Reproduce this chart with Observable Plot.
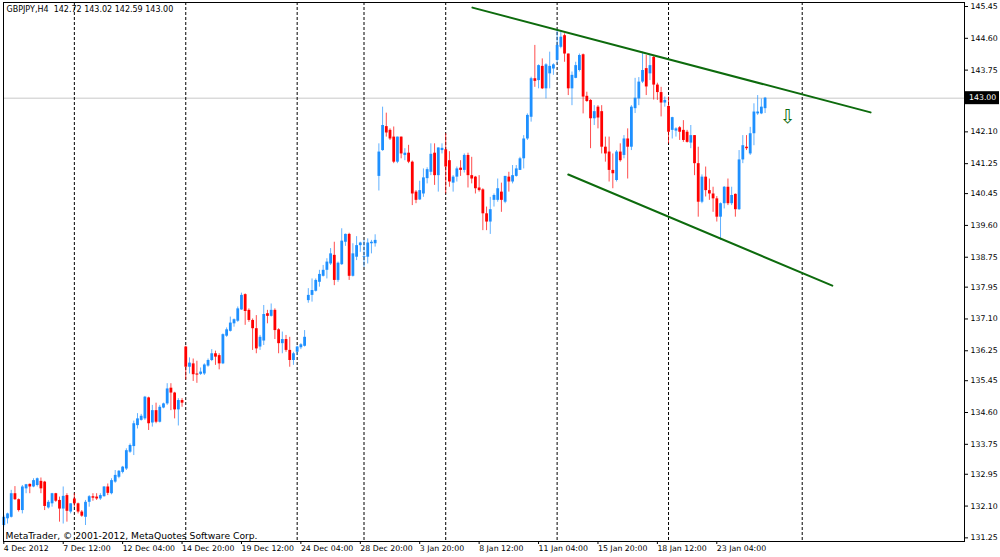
<!DOCTYPE html>
<html>
<head>
<meta charset="utf-8">
<script src="https://cdn.jsdelivr.net/npm/d3@7"></script>
<script src="https://cdn.jsdelivr.net/npm/@observablehq/plot@0.6"></script>
<style>
  html, body { margin: 0; padding: 0; background: #fff; }
  #chart svg { display: block; }
</style>
</head>
<body>
<div id="chart"></div>
<script>
// ---- Data (GBPJPY H4 candles) ----
const open = [131.58,131.76,131.80,132.43,132.27,131.98,132.56,132.68,132.61,132.65,132.76,132.74,132.05,132.16,132.43,132.25,132.02,132.38,131.94,132.29,132.16,131.94,131.80,132.20,132.35,132.34,132.29,132.35,132.61,132.43,132.74,132.87,133.00,133.09,133.54,133.69,134.25,134.39,134.43,134.99,134.32,134.65,134.34,134.72,134.83,135.25,135.12,134.67,134.92,136.35,135.81,135.90,135.63,135.62,135.63,135.84,135.99,136.17,136.12,135.90,136.64,136.77,136.97,137.04,137.34,137.75,137.33,137.06,136.84,136.35,136.51,137.24,137.17,137.33,136.81,136.44,136.55,136.26,135.99,136.21,136.33,136.37,137.59,137.73,137.84,138.08,138.24,138.40,138.57,138.80,138.13,138.55,139.15,139.36,138.24,138.75,139.06,138.75,138.75,139.11,139.11,140.91,141.60,142.24,142.14,141.96,141.29,141.96,141.47,141.53,141.29,140.49,140.28,140.44,140.85,141.02,141.53,140.93,141.60,141.62,141.33,140.73,140.89,141.13,141.07,141.47,140.93,140.89,140.60,140.55,139.91,139.69,140.27,140.27,140.49,140.22,140.89,140.76,140.91,141.07,141.38,141.91,142.49,143.52,143.47,143.85,143.25,143.65,143.78,144.01,144.36,144.67,144.18,143.25,143.53,143.74,144.16,143.05,142.94,142.45,142.76,142.64,141.69,141.56,141.07,140.80,141.56,141.47,141.91,141.69,142.72,142.98,143.43,143.79,143.65,144.09,143.35,143.15,142.87,142.78,142.14,142.12,142.21,142.14,142.09,141.80,142.00,141.25,140.22,140.89,140.53,140.44,140.31,139.82,140.18,140.62,140.18,140.43,140.02,141.35,141.69,141.51,142.05,142.58,142.58,142.72];
const high = [131.85,131.91,132.52,132.62,132.29,132.65,132.68,132.69,132.83,132.85,132.85,132.76,132.25,132.44,132.44,132.34,132.61,132.43,132.16,132.43,132.18,131.98,132.25,132.38,132.43,132.43,132.43,132.62,132.69,132.83,133.05,133.05,133.16,133.63,133.76,134.37,134.57,134.55,135.03,135.01,134.79,134.85,134.79,134.85,135.37,135.37,135.14,134.97,134.97,136.37,136.06,136.03,135.97,135.79,135.90,136.03,136.28,136.24,136.17,136.70,136.86,137.15,137.10,137.42,137.79,137.77,137.37,137.10,137.19,136.66,137.46,137.33,137.50,137.37,136.84,136.75,136.66,136.61,136.21,136.37,136.44,136.79,137.91,138.17,138.17,138.40,138.53,138.71,138.98,139.15,138.62,139.51,139.37,139.39,139.11,139.30,139.15,139.20,139.24,139.20,139.35,141.78,142.76,142.60,142.18,142.23,141.96,141.96,141.65,141.74,141.32,140.53,140.78,141.11,141.14,141.78,141.78,141.67,141.78,142.05,141.57,140.93,141.16,141.33,141.51,141.53,141.42,140.91,140.93,140.58,140.09,140.35,140.44,140.84,140.73,140.91,141.02,141.20,141.20,141.42,142.00,142.58,143.56,144.41,143.89,144.05,143.92,144.23,143.92,144.81,144.76,144.72,144.18,143.70,143.96,144.18,144.18,143.16,142.96,142.80,142.80,142.80,141.96,141.96,141.51,141.60,141.78,142.00,142.18,142.80,143.53,143.55,144.23,144.14,144.14,144.12,143.40,143.29,143.03,143.03,142.49,142.21,142.24,142.40,142.14,142.27,142.00,141.69,140.95,141.16,140.84,140.62,140.37,140.20,140.64,140.84,140.62,140.44,141.60,142.00,142.00,142.22,142.85,143.07,142.98,143.02];
const low = [131.54,131.62,131.78,132.25,131.94,131.89,132.43,132.43,132.59,132.61,132.43,131.98,132.02,132.07,132.20,131.67,131.62,131.67,131.89,132.07,131.89,131.80,131.58,132.07,132.23,132.25,132.25,132.34,132.38,132.40,132.71,132.83,132.96,133.05,133.51,133.45,134.16,134.37,134.39,134.12,134.21,134.30,134.32,134.70,134.79,134.65,134.43,134.24,134.74,135.47,135.63,135.43,135.38,135.59,135.59,135.81,135.96,135.86,135.74,135.88,136.61,136.75,136.88,137.01,137.33,136.93,137.01,136.26,136.17,136.26,136.39,136.97,137.15,136.55,136.17,136.17,136.21,135.81,135.86,136.12,136.28,136.35,137.52,137.55,137.82,137.95,138.22,138.17,138.53,137.99,138.08,138.53,139.04,138.13,138.22,138.66,138.88,138.48,138.57,138.84,139.02,140.52,141.58,141.96,141.87,141.25,141.25,141.38,141.33,141.25,140.13,140.18,140.27,140.35,140.71,140.93,140.67,140.49,141.51,140.44,140.62,140.49,140.76,140.91,141.00,140.60,140.71,140.44,140.49,139.46,139.46,139.36,140.09,140.22,139.95,140.18,140.49,140.71,140.89,141.07,141.11,141.87,142.36,143.29,143.25,143.23,142.98,143.25,143.61,143.92,144.32,143.96,143.07,142.80,143.52,143.70,142.58,142.89,141.65,142.27,142.18,141.51,141.29,140.76,140.58,140.76,141.29,141.38,140.84,141.60,142.59,142.80,143.39,143.07,143.47,142.95,142.94,142.50,142.76,141.78,141.91,141.96,141.87,141.82,141.80,141.65,140.93,139.82,140.18,140.36,140.27,139.95,139.69,139.20,140.04,140.13,140.13,139.82,140.00,141.25,141.60,141.47,141.73,142.54,142.56,142.59];
const close = [131.80,131.89,132.43,132.27,131.98,132.61,132.67,132.61,132.78,132.83,132.56,132.09,132.20,132.43,132.23,132.02,132.36,131.96,132.16,132.16,131.94,131.83,132.20,132.35,132.31,132.29,132.38,132.61,132.44,132.78,132.92,133.03,133.14,133.58,133.72,134.30,134.43,134.50,135.01,134.30,134.65,134.34,134.74,134.83,135.23,135.12,134.67,134.92,134.85,135.81,135.92,135.61,135.60,135.68,135.87,135.99,136.17,136.08,135.90,136.68,136.81,136.99,137.08,137.37,137.73,137.30,137.06,136.84,136.30,136.61,137.22,137.17,137.33,136.79,136.44,136.55,136.26,135.99,136.17,136.35,136.41,136.61,137.73,137.86,138.13,138.29,138.40,138.62,138.84,138.13,138.59,139.18,139.36,138.24,138.84,139.06,139.13,138.77,139.13,139.15,139.20,141.56,142.27,142.07,141.91,141.29,141.96,141.51,141.53,141.29,140.44,140.27,140.53,140.87,141.09,141.50,140.93,141.67,141.66,141.16,140.76,140.89,141.11,141.07,141.47,140.93,140.84,140.58,140.53,139.91,139.69,140.02,140.40,140.58,140.27,140.91,140.76,140.93,141.11,141.38,141.91,142.54,143.52,143.45,143.87,143.25,143.89,143.85,143.89,144.41,144.63,144.18,143.25,143.61,143.87,144.14,143.03,142.91,142.45,142.64,142.47,141.69,141.51,141.07,140.98,141.56,141.33,141.91,141.69,142.76,143.00,143.43,143.74,143.30,143.87,143.35,143.15,142.87,142.94,142.09,142.48,142.18,142.09,141.87,141.82,142.00,141.25,140.22,140.89,140.53,140.44,140.31,139.82,140.18,140.62,140.18,140.40,140.02,141.35,141.73,141.65,142.05,142.63,142.63,142.76,143.00];

// Weekly period separators (bar index), time-axis ticks (bar index) and their labels
const separators = [19, 49, 79, 97, 119, 149, 179, 215];
const xTickBars = [0, 16, 32, 48, 64, 80, 96, 112, 128, 144, 160, 176, 192];
const xTickLabels = ["4 Dec 2012", "7 Dec 12:00", "12 Dec 04:00", "14 Dec 20:00", "19 Dec 12:00", "24 Dec 04:00", "28 Dec 20:00", "3 Jan 20:00", "8 Jan 12:00", "11 Jan 04:00", "15 Jan 20:00", "18 Jan 12:00", "23 Jan 04:00"];
const yTicks = [145.45, 144.60, 143.75, 142.10, 141.25, 140.45, 139.60, 138.75, 137.95, 137.10, 136.25, 135.45, 134.60, 133.75, 132.95, 132.10, 131.25];
const bid = 143.00;

// Trend channel lines (bar index, price)
const upperLine = [[126.2, 145.42], [233.4, 142.62]];
const lowerLine = [[152.0, 140.96], [223.1, 137.99]];
const arrowPoint = [[211.0, 142.51]];

const header = "GBPJPY,H4  142.72 143.02 142.59 143.00";
const copyright = "MetaTrader, © 2001-2012, MetaQuotes Software Corp.";

// ---- Build ----
const UP = "#1e90ff", DOWN = "#ff0000", GREEN = "#0d6b0d";
const bars = open.map((o, i) => ({i, o, h: high[i], l: low[i], c: close[i], col: close[i] >= o ? UP : DOWN}));
const trend = [
  ...upperLine.map(([x, y]) => ({x, y, id: "upper"})),
  ...lowerLine.map(([x, y]) => ({x, y, id: "lower"}))
];
const FONT = "DejaVu Sans";

const chart = Plot.plot({
  width: 1000,
  height: 557,
  marginLeft: 3,
  marginRight: 36,
  marginTop: 2,
  marginBottom: 16,
  style: {fontFamily: FONT, fontSize: "8px", background: "#fff", color: "#000"},
  x: {domain: [-0.08, 258.7], axis: null},
  y: {domain: [131.153, 145.557], axis: null},
  color: {type: "identity"},
  marks: [
    Plot.ruleY([bid], {stroke: "#c8c8c8", strokeWidth: 1}),
    Plot.ruleX(separators, {stroke: "#000", strokeDasharray: "3,2", strokeWidth: 1}),
    Plot.ruleX(bars, {x: "i", y1: "l", y2: "h", stroke: "col", strokeOpacity: 0.7, strokeWidth: 1}),
    Plot.ruleX(bars, {x: "i", y1: "o", y2: "c", stroke: "col", strokeWidth: 2.8}),
    Plot.line(trend, {x: "x", y: "y", z: "id", stroke: GREEN, strokeWidth: 2}),
    Plot.text(arrowPoint, {x: d => d[0], y: d => d[1], text: () => "⇩", fill: GREEN, fontSize: 19, fontFamily: FONT}),
    Plot.text([header], {frameAnchor: "top-left", dx: 3, dy: 4, text: d => d, fontSize: 8, fill: "#000"}),
    Plot.text([copyright], {frameAnchor: "bottom-left", dx: 2, dy: -3, text: d => d, fontSize: 9.2, fill: "#000"}),
    Plot.axisX({
      ticks: xTickBars,
      tickFormat: d => xTickLabels[xTickBars.indexOf(d)],
      tickSize: 3,
      tickPadding: 1,
      textAnchor: "start",
      dx: 0,
      fontSize: 7.8,
      stroke: "#000"
    }),
    Plot.axisY({
      anchor: "right",
      ticks: yTicks,
      tickFormat: d => d.toFixed(2),
      tickSize: 3,
      tickPadding: 3,
      fontSize: 7.8,
      stroke: "#000"
    }),
    Plot.frame({stroke: "#000", strokeWidth: 1})
  ]
});

document.getElementById("chart").appendChild(chart);

// Current-price label on the price axis (black box with white text), positioned with the chart's y scale
const yb = chart.scale("y").apply(bid);
const svg = d3.select(chart);
const g = svg.append("g");
g.append("rect").attr("x", 965).attr("y", yb - 6.5).attr("width", 34).attr("height", 13).attr("fill", "#000");
g.append("text").attr("x", 969).attr("y", yb).attr("dy", "0.35em")
  .attr("text-anchor", "start")
  .attr("fill", "#fff").attr("font-family", FONT).attr("font-size", "7.8px")
  .text(bid.toFixed(2));
</script>
</body>
</html>
